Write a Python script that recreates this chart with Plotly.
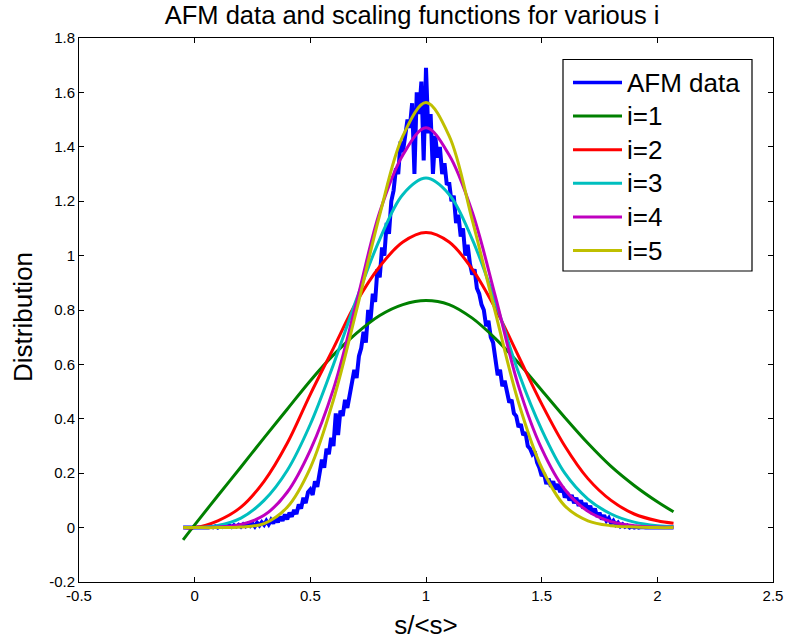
import numpy as np
import plotly.graph_objects as go

# ---------------- data ----------------
TITLE = "AFM data and scaling functions for various i"
X_LABEL = "s/&lt;s&gt;"
Y_LABEL = "Distribution"

X_TICKS = [-0.5, 0, 0.5, 1, 1.5, 2, 2.5]
X_TICK_LABELS = ["-0.5", "0", "0.5", "1", "1.5", "2", "2.5"]
Y_TICKS = [-0.2, 0, 0.2, 0.4, 0.6, 0.8, 1.0, 1.2, 1.4, 1.6, 1.8]
Y_TICK_LABELS = ["-0.2", "0", "0.2", "0.4", "0.6", "0.8", "1", "1.2", "1.4", "1.6", "1.8"]

# AFM data sampled at s = -0.05 ... 2.07 (step 0.01)
AFM_NAME = "AFM data"
AFM_S_START = -0.05
AFM_S_STEP = 0.01
AFM_VALUES = [
    0, 0, 0, 0, 0, 0, 0, 0, 0, 0,
    0.002, 0.0, 0.004, 0.001, 0.005, 0.0, 0.006, 0.002, 0.007, 0.003,
    0.008, 0.002, 0.009, 0.004, 0.01, 0.003, 0.012, 0.005, 0.014, 0.006,
    0.015, 0.004, 0.018, 0.008, 0.02, 0.01, 0.025, 0.012, 0.028, 0.015,
    0.035, 0.02, 0.04, 0.025, 0.048, 0.03, 0.055, 0.04, 0.065, 0.05,
    0.085, 0.07, 0.11, 0.09, 0.13, 0.14, 0.12, 0.17, 0.15, 0.2,
    0.25, 0.22, 0.29, 0.27, 0.33, 0.3, 0.42, 0.34, 0.43, 0.41,
    0.47, 0.44, 0.49, 0.52, 0.58, 0.55, 0.63, 0.66, 0.72, 0.68,
    0.8, 0.76, 0.86, 0.83, 0.95, 0.92, 1.03, 1.0, 1.12, 1.08,
    1.2, 1.24, 1.32, 1.3, 1.42, 1.38, 1.45, 1.5, 1.47, 1.56,
    1.3, 1.6, 1.52, 1.64, 1.35, 1.69, 1.45, 1.52, 1.3, 1.44,
    1.36, 1.4, 1.3, 1.34, 1.26, 1.27, 1.2, 1.22, 1.12, 1.15,
    1.07, 1.1, 1.0, 1.04, 0.97, 0.93, 0.95, 0.88, 0.86, 0.82,
    0.8, 0.74, 0.76, 0.7, 0.68, 0.62, 0.56, 0.58, 0.52, 0.54,
    0.5, 0.46, 0.47, 0.42, 0.41, 0.37, 0.38, 0.34, 0.35, 0.3,
    0.29, 0.27, 0.28, 0.24, 0.22, 0.19, 0.2, 0.16, 0.18, 0.15,
    0.17, 0.14, 0.16, 0.13, 0.15, 0.11, 0.13, 0.1, 0.12, 0.09,
    0.11, 0.08, 0.1, 0.07, 0.09, 0.06, 0.08, 0.05, 0.07, 0.04,
    0.055, 0.03, 0.045, 0.025, 0.035, 0.015, 0.025, 0.01, 0.018, 0.005,
    0.012, 0.003, 0.008, 0.0, 0.005, 0.0, 0.003, 0.0, 0.002, 0.0,
    0, 0, 0, 0, 0, 0, 0, 0, 0, 0, 0, 0, 0,
]
AFM_S = [round(AFM_S_START + k * AFM_S_STEP, 2) for k in range(len(AFM_VALUES))]
AFM_COLOR = "#0000FF"

# scaling functions, read at these s values
S_GRID = [-0.05, 0.0, 0.1, 0.2, 0.3, 0.4, 0.5, 0.6, 0.7, 0.8, 0.9, 1.0,
          1.1, 1.2, 1.3, 1.4, 1.5, 1.6, 1.7, 1.8, 1.9, 2.0, 2.07]
I1 = [-0.045, 0.01, 0.117, 0.223, 0.33, 0.435, 0.54, 0.635, 0.715, 0.78, 0.82, 0.835,
      0.82, 0.77, 0.695, 0.605, 0.505, 0.405, 0.31, 0.225, 0.155, 0.095, 0.058]
I2 = [0.0, 0.0, 0.025, 0.075, 0.17, 0.31, 0.49, 0.66, 0.83, 0.96, 1.05, 1.085,
      1.05, 0.95, 0.805, 0.63, 0.455, 0.30, 0.18, 0.10, 0.05, 0.025, 0.016]
I3 = [0.0, 0.0, 0.008, 0.035, 0.10, 0.21, 0.38, 0.60, 0.84, 1.06, 1.225, 1.285,
      1.225, 1.06, 0.83, 0.57, 0.36, 0.20, 0.105, 0.05, 0.02, 0.007, 0.004]
I4 = [0.0, 0.0, 0.002, 0.012, 0.045, 0.13, 0.285, 0.51, 0.83, 1.16, 1.37, 1.47,
      1.37, 1.16, 0.85, 0.52, 0.29, 0.14, 0.06, 0.022, 0.007, 0.002, 0.001]
I5 = [0.0, 0.0, 0.0, 0.002, 0.015, 0.075, 0.22, 0.47, 0.80, 1.15, 1.44, 1.563,
      1.44, 1.13, 0.79, 0.46, 0.22, 0.08, 0.025, 0.007, 0.002, 0.0, 0.0]

SERIES_NAMES = ["i=1", "i=2", "i=3", "i=4", "i=5"]
SERIES_VALUES = [I1, I2, I3, I4, I5]
SERIES_COLORS = ["#008000", "#FF0000", "#00BFBF", "#BF00BF", "#BFBF00"]

FONT = "Liberation Sans, Arial, Helvetica, sans-serif"

# plot-area geometry in pixels (for converting legend pixel positions to paper coords)
W, H = 788, 640
ML, MR, MT, MB = 79, 15, 38, 58
PW, PH = W - ML - MR, H - MT - MB


def px_x(px):
    return (px - ML) / PW


def px_y(py):
    return (H - MB - py) / PH


fig = go.Figure()
fig.add_trace(go.Scatter(x=AFM_S, y=AFM_VALUES, mode="lines", name=AFM_NAME,
                         line=dict(color=AFM_COLOR, width=4)))
for nm, vals, col in zip(SERIES_NAMES, SERIES_VALUES, SERIES_COLORS):
    fig.add_trace(go.Scatter(x=S_GRID, y=vals, mode="lines", name=nm,
                             line=dict(color=col, width=3, shape="spline", smoothing=1.0)))

axis_common = dict(showgrid=False, zeroline=False, showline=True, linecolor="black",
                   linewidth=1, mirror="ticks", ticks="inside", ticklen=5,
                   tickcolor="black", tickwidth=1, automargin=False,
                   tickfont=dict(family=FONT, size=15, color="black"))

# ---- hand-made legend box (MATLAB style) ----
shapes = [dict(type="rect", xref="paper", yref="paper",
               x0=px_x(563), x1=px_x(752), y0=px_y(271), y1=px_y(59.5),
               line=dict(color="black", width=1.2), fillcolor="white", layer="above")]
annotations = []
leg_names = [AFM_NAME] + SERIES_NAMES
leg_colors = [AFM_COLOR] + SERIES_COLORS
for k, (nm, col) in enumerate(zip(leg_names, leg_colors)):
    yy = 82.5 + k * 33.6
    shapes.append(dict(type="line", xref="paper", yref="paper",
                       x0=px_x(573), x1=px_x(622), y0=px_y(yy), y1=px_y(yy),
                       line=dict(color=col, width=3.5 if k == 0 else 3), layer="above"))
    annotations.append(dict(text=nm, xref="paper", yref="paper", x=px_x(625), y=px_y(yy),
                            xanchor="left", yanchor="middle", showarrow=False,
                            font=dict(family=FONT, size=26, color="black")))

annotations.append(dict(text=Y_LABEL, xref="paper", yref="paper",
                        x=(23 - ML) / PW, y=px_y(317), textangle=-90,
                        xanchor="center", yanchor="middle", showarrow=False,
                        font=dict(family=FONT, size=26, color="black")))

fig.update_layout(
    width=W, height=H,
    margin=dict(l=ML, r=MR, t=MT, b=MB, autoexpand=False),
    paper_bgcolor="white", plot_bgcolor="white",
    font=dict(family=FONT, color="black"),
    title=dict(text=TITLE, x=0.523, xref="container", xanchor="center",
               y=1 - 15 / 640, yref="container", yanchor="middle",
               font=dict(family=FONT, size=25.5, color="black")),
    xaxis=dict(range=[-0.5, 2.5], tickvals=X_TICKS, ticktext=X_TICK_LABELS,
               title=dict(text=X_LABEL, font=dict(family=FONT, size=26), standoff=14),
               **axis_common),
    yaxis=dict(range=[-0.2, 1.8], tickvals=Y_TICKS, ticktext=Y_TICK_LABELS,
               **axis_common),
    shapes=shapes,
    annotations=annotations,
    showlegend=False,
)

fig.write_html("out.html")
